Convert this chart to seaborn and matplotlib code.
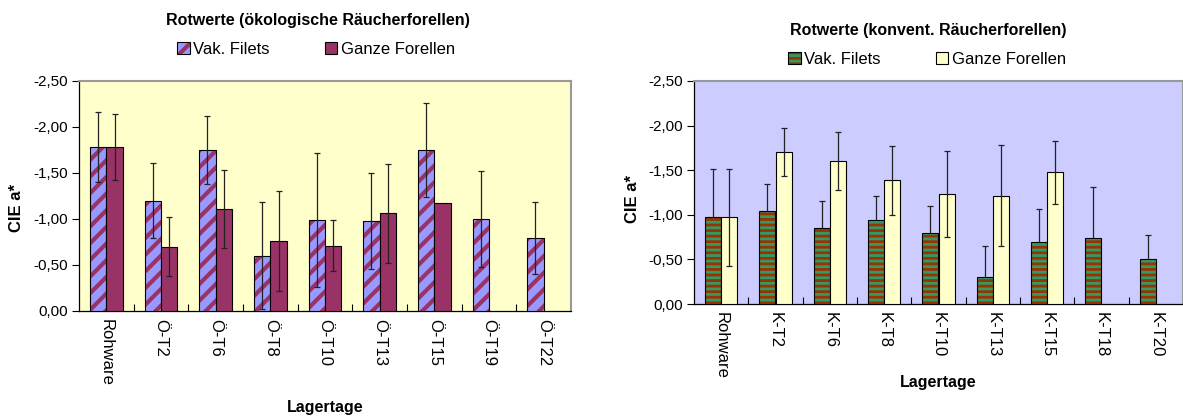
import numpy as np
import pandas as pd
import matplotlib
matplotlib.use("Agg")
import matplotlib.pyplot as plt
from matplotlib.colors import to_rgba
from matplotlib.ticker import FuncFormatter, FixedLocator
import seaborn as sns

# ---------------- data ----------------
series_names = ["Vak. Filets", "Ganze Forellen"]

oeko_cats = ["Rohware", "Ö-T2", "Ö-T6", "Ö-T8", "Ö-T10", "Ö-T13", "Ö-T15", "Ö-T19", "Ö-T22"]
oeko_vak = [-1.78, -1.20, -1.75, -0.60, -0.99, -0.98, -1.75, -1.00, -0.79]
oeko_vak_sd = [0.38, 0.41, 0.37, 0.58, 0.73, 0.52, 0.51, 0.52, 0.39]
oeko_ganz = [-1.78, -0.70, -1.11, -0.76, -0.71, -1.06, -1.17, np.nan, np.nan]
oeko_ganz_sd = [0.36, 0.32, 0.42, 0.54, 0.28, 0.54, np.nan, np.nan, np.nan]

konv_cats = ["Rohware", "K-T2", "K-T6", "K-T8", "K-T10", "K-T13", "K-T15", "K-T18", "K-T20"]
konv_vak = [-0.97, -1.04, -0.855, -0.945, -0.795, -0.30, -0.70, -0.74, -0.505]
konv_vak_sd = [0.54, 0.30, 0.30, 0.27, 0.30, 0.35, 0.36, 0.57, 0.27]
konv_ganz = [-0.97, -1.70, -1.605, -1.385, -1.235, -1.215, -1.475, np.nan, np.nan]
konv_ganz_sd = [0.54, 0.27, 0.325, 0.385, 0.48, 0.565, 0.355, np.nan, np.nan]

y_ticks = [-2.5, -2.0, -1.5, -1.0, -0.5, 0.0]

plt.rcParams["font.family"] = ["Liberation Sans", "DejaVu Sans"]

W, H = 1183, 417
fig = plt.figure(figsize=(W / 100, H / 100), dpi=100)


def px_axes(x0, x1, y0, y1):
    return fig.add_axes([x0 / W, 1 - y1 / H, (x1 - x0) / W, (y1 - y0) / H])


def draw_panel(ax, cats, vak, vak_sd, ganz, ganz_sd, bg, vak_face, vak_hatch,
               hatch, hatch_lw, ganz_face, vak_err_behind, title, title_xy, leg_xy):
    plt.rcParams["hatch.linewidth"] = hatch_lw
    df = pd.DataFrame({
        "cat": cats * 2,
        "series": [series_names[0]] * len(cats) + [series_names[1]] * len(cats),
        "val": list(vak) + list(ganz),
    })
    sds = {series_names[0]: vak_sd, series_names[1]: ganz_sd}
    ax.set_facecolor(bg)
    sns.barplot(data=df, x="cat", y="val", hue="series", order=cats,
                hue_order=series_names,
                palette={series_names[0]: vak_face, series_names[1]: ganz_face},
                saturation=1, width=0.6, errorbar=None, edgecolor="black",
                linewidth=0.8, legend=False, ax=ax, zorder=3)
    bar_conts = list(ax.containers)
    # hatch for first series
    for p in bar_conts[0].patches:
        p.set_hatch(hatch)
        p._hatch_color = to_rgba(vak_hatch)
        if hasattr(p, "set_hatch_linewidth"):
            p.set_hatch_linewidth(hatch_lw)
        else:
            p._hatch_linewidth = hatch_lw
    # error bars
    for ci, cont in enumerate(bar_conts):
        name = series_names[ci]
        xs, ys, es = [], [], []
        for p in cont.patches:
            h = p.get_height()
            if not np.isfinite(h):
                continue
            cx = p.get_x() + p.get_width() / 2
            idx = int(round(cx))
            sd = sds[name][idx]
            if not np.isfinite(sd):
                continue
            xs.append(cx); ys.append(h); es.append(sd)
        z = 2 if (ci == 0 and vak_err_behind) else 4
        ax.errorbar(xs, ys, yerr=es, fmt="none", ecolor="#222222",
                    elinewidth=0.9, capsize=2, capthick=0.9, zorder=z)

    ax.set_xlim(-0.5, len(cats) - 0.5)
    ax.set_ylim(0, -2.5)
    ax.yaxis.set_major_locator(FixedLocator(y_ticks))
    ax.yaxis.set_major_formatter(FuncFormatter(
        lambda v, pos: "0,00" if abs(v) < 1e-9 else f"{v:.2f}".replace(".", ",")))
    ax.tick_params(axis="y", direction="out", length=5, width=0.8, labelsize=11, pad=3)
    ax.set_xticks(range(len(cats)))
    ax.set_xticklabels(cats, rotation=270, fontsize=12, va="top", ha="center")
    ax.tick_params(axis="x", which="major", length=0, pad=6)
    ax.set_xticks(np.arange(0.5, len(cats) - 0.5, 1.0), minor=True)
    ax.tick_params(axis="x", which="minor", direction="in", length=5, width=0.8)
    ax.set_xlabel("Lagertage", fontsize=11.5, fontweight="bold")
    ax.set_ylabel("CIE a*", fontsize=12, fontweight="bold")
    for s in ["left", "bottom"]:
        ax.spines[s].set_color("black")
        ax.spines[s].set_linewidth(0.9)
    for s in ["top", "right"]:
        ax.spines[s].set_color("#999999")
        ax.spines[s].set_linewidth(1.5)

    fig.text(title_xy[0] / W, 1 - title_xy[1] / H, title, ha="center", va="center",
             fontsize=11.5, fontweight="bold")
    fig.legend(bar_conts, series_names, loc="center",
               bbox_to_anchor=(leg_xy[0] / W, 1 - leg_xy[1] / H), ncol=2,
               frameon=False, fontsize=12, handlelength=0.75, handleheight=0.75,
               handletextpad=0.2, columnspacing=3.3, borderaxespad=0)


ax1 = px_axes(79, 571, 81, 311)
draw_panel(ax1, oeko_cats, oeko_vak, oeko_vak_sd, oeko_ganz, oeko_ganz_sd,
           "#FFFFCC", "#9999FF", "#993366", "//", 3.0, "#993366", False,
           "Rotwerte (ökologische Räucherforellen)", (318, 21), (316, 49))
ax1.yaxis.set_label_coords(-0.112, 0.45)
ax1.xaxis.set_label_coords(0.5, -0.385)

ax2 = px_axes(694, 1183, 81, 304)
draw_panel(ax2, konv_cats, konv_vak, konv_vak_sd, konv_ganz, konv_ganz_sd,
           "#CCCCFF", "#339966", "#993300", "---", 2.0, "#FFFFCC", True,
           "Rotwerte (konvent. Räucherforellen)", (928, 31), (927, 59))
ax2.yaxis.set_label_coords(-0.11, 0.47)
ax2.xaxis.set_label_coords(0.5, -0.32)

fig.savefig("out.png", dpi=100)
